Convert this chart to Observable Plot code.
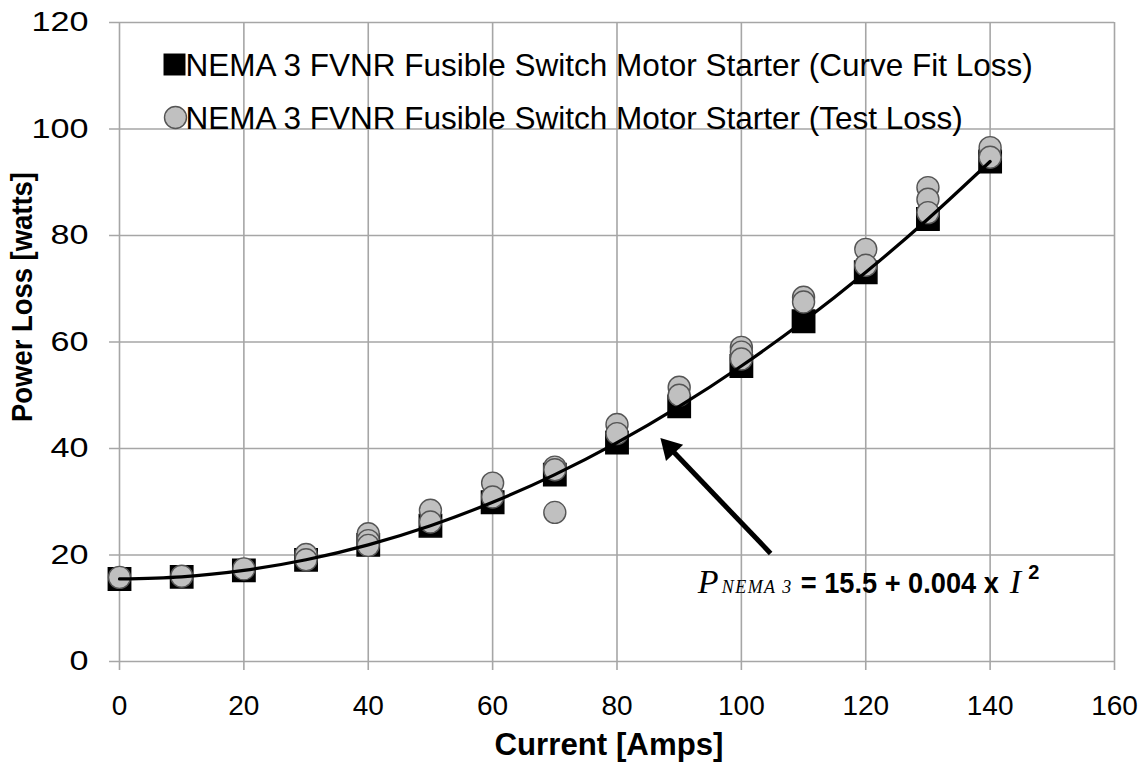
<!DOCTYPE html>
<html><head><meta charset="utf-8">
<script src="https://cdn.jsdelivr.net/npm/d3@7"></script>
<script src="https://cdn.jsdelivr.net/npm/@observablehq/plot@0.6"></script>
<style>body{margin:0;background:#fff;} #chart svg{display:block;}</style>
</head><body><div id="chart"></div>
<script>
// Curve-fit loss (squares)
const fitCurrents = [0, 10, 20, 30, 40, 50, 60, 70, 80, 90, 100, 110, 120, 130, 140];
const fitLoss = [15.5, 15.9, 17.1, 19.1, 21.9, 25.5, 29.9, 35.1, 41.1, 47.9, 55.5, 63.9, 73.1, 83.1, 93.9];
// Test loss (circles)
const testCurrents = [0, 10, 20, 30, 30, 40, 40, 40, 50, 50, 60, 60, 70, 70, 70, 80, 80, 90, 90, 100, 100, 100, 110, 110, 120, 120, 130, 130, 130, 140, 140];
const testLoss = [15.8, 16.0, 17.4, 20.1, 19.1, 24.0, 22.7, 21.8, 28.4, 26.2, 33.5, 30.9, 36.5, 36.0, 28.0, 44.5, 42.8, 51.5, 50.0, 59.0, 58.1, 56.8, 68.4, 67.5, 77.4, 74.4, 89.0, 86.8, 84.3, 96.5, 94.7];
const xTicks = [0, 20, 40, 60, 80, 100, 120, 140, 160];
const yTicks = [0, 20, 40, 60, 80, 100, 120];
const legendLabels = [
  "NEMA 3 FVNR Fusible Switch Motor Starter (Curve Fit Loss)",
  "NEMA 3 FVNR Fusible Switch Motor Starter (Test Loss)"
];
const xTitle = "Current [Amps]";
const yTitle = "Power Loss [watts]";
const eqParts = ["P", "NEMA 3", "= 15.5 + 0.004 x", "I", "2"];
const eqAnchor = [{x: 93.0, y: 12.8}];
const arrowLine = [{x1: 104.7, y1: 20.3, x2: 88.5, y2: 40.1}];
const arrowHead = [{x: 88.5, y: 40.1}];

const fitData = fitCurrents.map((c, i) => ({current: c, loss: fitLoss[i]}));
const testData = testCurrents.map((c, i) => ({current: c, loss: testLoss[i]}));

const sans = "'Liberation Sans', Arial, sans-serif";
const serif = "'Liberation Serif', 'Times New Roman', serif";
const grid = "#a6a6a6";

const chart = Plot.plot({
  width: 1146,
  height: 768,
  marginLeft: 119,
  marginRight: 32,
  marginTop: 22,
  marginBottom: 107,
  style: {fontFamily: sans, background: "white", color: "black"},
  x: {domain: [0, 160]},
  y: {domain: [0, 120]},
  marks: [
    Plot.ruleX(xTicks, {x: d => d, y1: -1.7, y2: 120, stroke: grid, strokeWidth: 1.6}),
    Plot.ruleY(yTicks, {y: d => d, x1: -1.6, x2: 160, stroke: grid, strokeWidth: 1.6}),
    Plot.axisX({ticks: xTicks, tickSize: 0, tickPadding: 34, fontSize: 28, fontFamily: sans, label: null, tickFormat: d => String(d)}),
    Plot.axisY({ticks: yTicks, tickSize: 0, tickPadding: 31, fontSize: 27, fontFamily: sans, label: null, tickFormat: d => String(d)}),
    Plot.text([xTitle], {frameAnchor: "bottom", text: d => d, dx: -8, dy: 84, lineAnchor: "middle", textAnchor: "middle", fontSize: 31, fontWeight: "bold", fontFamily: sans}),
    Plot.text([yTitle], {frameAnchor: "left", text: d => d, rotate: -90, dx: -97, dy: -45, lineAnchor: "middle", textAnchor: "middle", fontSize: 29, fontWeight: "bold", fontFamily: sans}),
    Plot.dot(fitData, {x: "current", y: "loss", symbol: "square", r: 12.6, fill: "black", stroke: "black"}),
    Plot.dot(testData, {x: "current", y: "loss", r: 11, fill: "#c0c0c0", stroke: "#555", strokeWidth: 1.4}),
    Plot.line(fitData, {x: "current", y: "loss", curve: "natural", stroke: "black", strokeWidth: 3.2}),
    Plot.link(arrowLine, {x1: "x1", y1: "y1", x2: "x2", y2: "y2", stroke: "black", strokeWidth: 5}),
    Plot.dot(arrowHead, {x: "x", y: "y", symbol: "triangle", r: 8.8, fill: "black", rotate: -43.7}),
    Plot.text(eqAnchor, {x: "x", y: "y", text: () => eqParts.join(" "), textAnchor: "start", lineAnchor: "bottom", fontSize: 30}),
    // legend
    Plot.dot([legendLabels[0]], {frameAnchor: "top-left", dx: 55, dy: 42, symbol: "square", r: 12.4, fill: "black"}),
    Plot.dot([legendLabels[1]], {frameAnchor: "top-left", dx: 56, dy: 95, r: 11, fill: "#c0c0c0", stroke: "#555", strokeWidth: 1.4}),
    Plot.text([legendLabels[0]], {frameAnchor: "top-left", text: d => d, dx: 66, dy: 43, textAnchor: "start", lineAnchor: "middle", fontSize: 31.5, fontFamily: sans}),
    Plot.text([legendLabels[1]], {frameAnchor: "top-left", text: d => d, dx: 66, dy: 96, textAnchor: "start", lineAnchor: "middle", fontSize: 31.5, fontFamily: sans})
  ]
});

const ns = "http://www.w3.org/2000/svg";
function squeeze(el, len) {
  el.setAttribute("textLength", len);
  el.setAttribute("lengthAdjust", "spacingAndGlyphs");
}
const eqText = eqParts.join(" ");
chart.querySelectorAll("text").forEach(t => {
  const s = t.textContent;
  if (s === eqText) {
    t.textContent = "";
    const specs = [
      {s: eqParts[0], ff: serif, fs: 34, st: "italic", fw: "normal", dx: 0},
      {s: eqParts[1], ff: serif, fs: 18, st: "italic", fw: "normal", dx: 3, ls: 1.5},
      {s: eqParts[2], ff: sans, fs: 29, st: "normal", fw: "bold", dx: 8, len: 198},
      {s: eqParts[3], ff: serif, fs: 34, st: "italic", fw: "normal", dx: 11},
      {s: eqParts[4], ff: sans, fs: 20, st: "normal", fw: "bold", dx: 7, dy: -14}
    ];
    specs.forEach(p => {
      const ts = document.createElementNS(ns, "tspan");
      ts.textContent = p.s;
      ts.setAttribute("font-family", p.ff);
      ts.setAttribute("font-size", p.fs);
      ts.setAttribute("font-style", p.st);
      ts.setAttribute("font-weight", p.fw);
      ts.setAttribute("dx", p.dx);
      if (p.dy) ts.setAttribute("dy", p.dy);
      if (p.ls) ts.setAttribute("letter-spacing", p.ls);
      if (p.len) squeeze(ts, p.len);
      t.appendChild(ts);
    });
  } else if (s === xTitle) {
    squeeze(t, 229);
  } else if (s === yTitle) {
    squeeze(t, 250);
  }
});
// y tick labels are drawn wide in the reference
chart.querySelectorAll('g[aria-label="y-axis tick label"] text').forEach(t => {
  squeeze(t, 19 * t.textContent.length);
});
document.getElementById("chart").appendChild(chart);
</script>
</body></html>
